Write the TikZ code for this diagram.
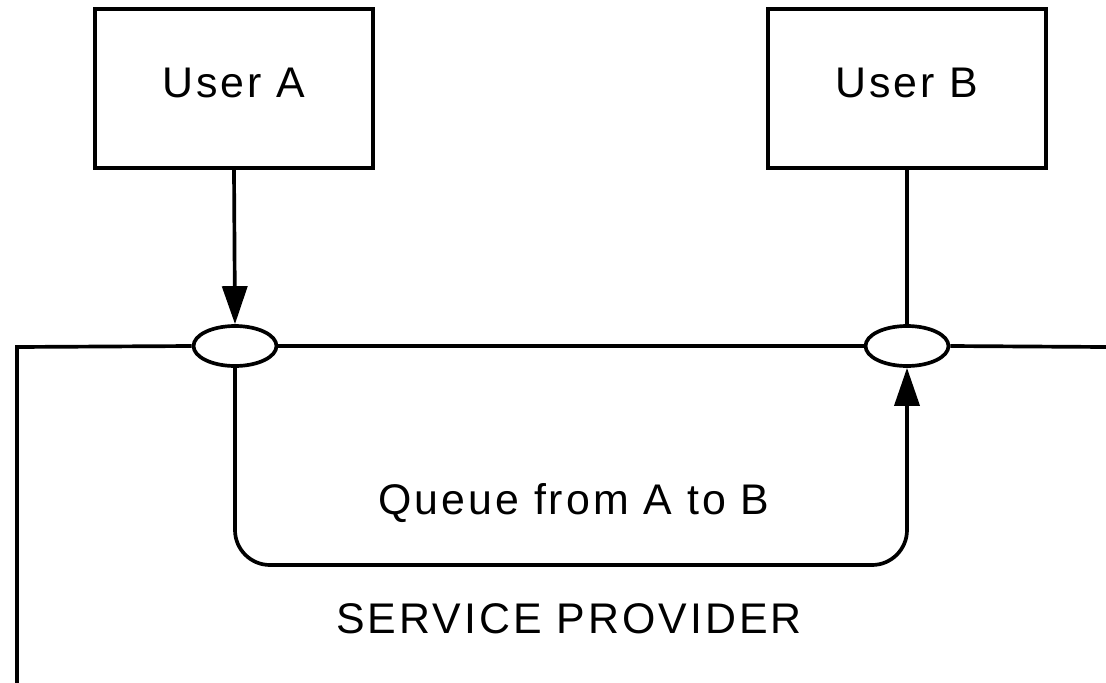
\documentclass[tikz,border=0pt]{standalone}
\usepackage{fontspec}
\setmainfont[LetterSpace=7]{Liberation Sans}
\usepackage{tikz}
\usetikzlibrary{arrows.meta,shapes.geometric}

\begin{document}
\begin{tikzpicture}[
      x=0.02cm, y=-0.02cm,
      line width=2.1pt,
      userbox/.style={draw, rectangle, minimum width=5.56cm,
                      minimum height=3.18cm, inner sep=0pt,
                      text depth=0.22cm, font=\fontsize{24.4}{29}\selectfont},
      port/.style={draw, ellipse, fill=white, minimum width=1.66cm,
                   minimum height=0.8cm, inner sep=0pt},
      lbl/.style={anchor=base, inner sep=0pt,
                  font=\fontsize{24.4}{29}\selectfont},
      flow/.style={-{Triangle[length=0.76cm, width=0.5cm]}},
    ]
    \useasboundingbox[fill=white] (0,0) rectangle (1106,683);

    %% the two users
    \node[userbox] (userA) at (234, 88.5) {User A};
    \node[userbox] (userB) at (907, 88.5) {User B};

    %% access points on the provider boundary
    \node[port] (portA) at (235, 346) {};
    \node[port] (portB) at (907, 346) {};

    %% provider boundary
    \coordinate (frameBL) at (17, 683);
    \coordinate (frameTL) at (17, 347);
    \coordinate (frameTR) at (1106, 347);
    \draw (frameBL) -- (frameTL) -- (portA.west);
    \draw (portA.east) -- (portB.west);
    \draw (portB.east) -- (frameTR);

    %% links from the users
    \draw[flow] (userA.south) -- (portA.north);
    \draw (userB.south) -- (portB.north);

    %% the queue inside the provider
    \coordinate (qbot) at (571, 565);
    \draw[flow, rounded corners=0.7cm] (portA.south) |- (qbot) -| (portB.south);

    \node[lbl] (qlbl) at (574, 514) {Queue from A to B};
    \node[lbl] (splbl) at (569, 633) {SERVICE PROVIDER};
\end{tikzpicture}
\end{document}
